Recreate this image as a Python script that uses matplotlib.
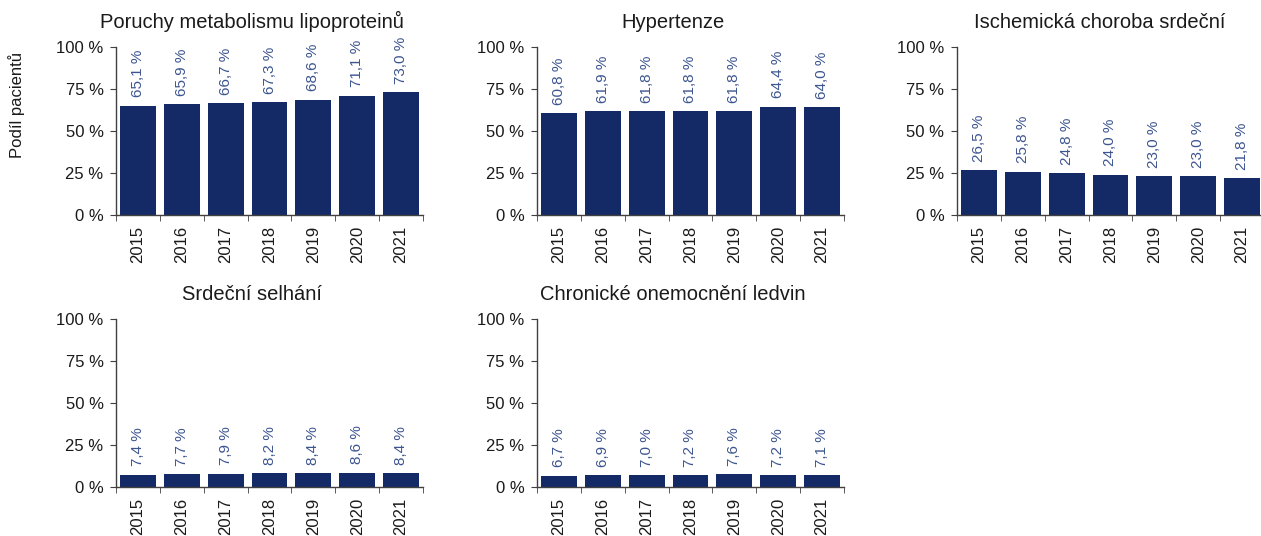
import matplotlib.pyplot as plt
from matplotlib.ticker import FixedLocator

plt.rcParams['font.family'] = ['Liberation Sans', 'DejaVu Sans']

years = ["2015", "2016", "2017", "2018", "2019", "2020", "2021"]

lipoproteiny = [65.1, 65.9, 66.7, 67.3, 68.6, 71.1, 73.0]
hypertenze = [60.8, 61.9, 61.8, 61.8, 61.8, 64.4, 64.0]
ischemie = [26.5, 25.8, 24.8, 24.0, 23.0, 23.0, 21.8]
selhani = [7.4, 7.7, 7.9, 8.2, 8.4, 8.6, 8.4]
ledviny = [6.7, 6.9, 7.0, 7.2, 7.6, 7.2, 7.1]

titles = ["Poruchy metabolismu lipoproteinů", "Hypertenze", "Ischemická choroba srdeční",
          "Srdeční selhání", "Chronické onemocnění ledvin"]
series = [lipoproteiny, hypertenze, ischemie, selhani, ledviny]

bar_color = "#142a66"
label_color = "#3d5590"
axis_color = "#404040"
text_color = "#1a1a1a"

fig = plt.figure(figsize=(12.61, 5.36), dpi=100)

w = 307 / 1261
h = 168 / 536
positions = [
    (116 / 1261, 1 - 215 / 536),
    (537 / 1261, 1 - 215 / 536),
    (957 / 1261, 1 - 215 / 536),
    (116 / 1261, 1 - 487 / 536),
    (537 / 1261, 1 - 487 / 536),
]
title_x = [0.443, 0.443, 0.466, 0.443, 0.443]

for i, (title, vals) in enumerate(zip(titles, series)):
    left, bottom = positions[i]
    ax = fig.add_axes([left, bottom, w, h])
    x = list(range(len(years)))
    ax.bar(x, vals, width=0.82, color=bar_color)
    for xi, v in zip(x, vals):
        txt = f"{v:.1f}".replace(".", ",") + " %"
        ax.annotate(txt, (xi, v), xytext=(0, 6), textcoords="offset points",
                    rotation=90, ha="center", va="bottom", fontsize=11, color=label_color)
    ax.set_xlim(-0.5, len(years) - 0.5)
    ax.set_ylim(0, 100)
    ax.set_yticks([0, 25, 50, 75, 100])
    ax.set_yticklabels(["0 %", "25 %", "50 %", "75 %", "100 %"], fontsize=12, color=text_color)
    ax.set_xticks(x)
    ax.set_xticklabels(years, rotation=90, fontsize=12, color=text_color)
    ax.tick_params(axis="x", which="major", length=0, pad=8)
    ax.xaxis.set_minor_locator(FixedLocator([k - 0.5 for k in range(len(years) + 1)]))
    ax.tick_params(axis="x", which="minor", length=4, color=axis_color)
    ax.tick_params(axis="y", length=4, color=axis_color, pad=5)
    for s in ["top", "right"]:
        ax.spines[s].set_visible(False)
    for s in ["left", "bottom"]:
        ax.spines[s].set_color(axis_color)
        ax.spines[s].set_linewidth(1.0)
    ax.set_title(title, fontsize=14.5, color=text_color, pad=14, x=title_x[i])
    if i == 0:
        ax.set_ylabel("Podíl pacientů", fontsize=12, color=text_color)
        ax.yaxis.set_label_coords(-0.296, 0.655)

fig.savefig("out.png", dpi=100)
